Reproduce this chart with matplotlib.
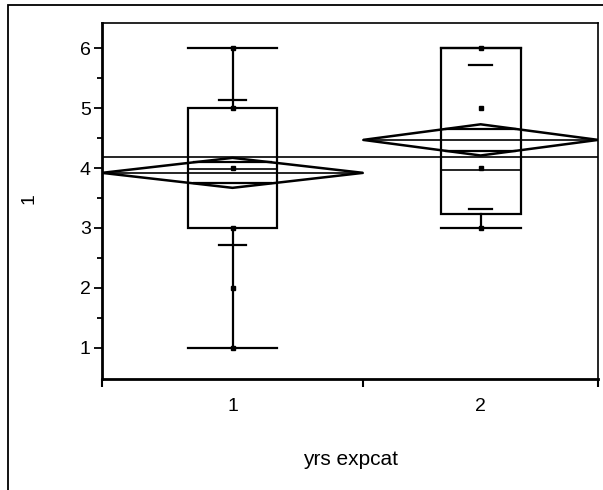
import matplotlib.pyplot as plt
import numpy as np
from matplotlib.patches import Rectangle, Polygon
from matplotlib.ticker import FixedLocator

plt.rcParams["font.family"] = ["Liberation Sans", "DejaVu Sans"]

# group data
groups = ["1", "2"]
counts = [10, 9]
means = [3.92, 4.47]
ci_half = [0.25, 0.26]
grand_mean = 4.19
q_min = [1.0, 3.0]
q10 = [2.71, 3.32]
q25 = [3.0, 3.24]
median = [3.98, 3.96]
q75 = [5.0, 6.0]
q90 = [5.14, 5.72]
q_max = [6.0, 6.0]
points = [[1, 2, 3, 4, 5, 6], [3, 4, 5, 6]]

fig = plt.figure(figsize=(6.03, 4.90), dpi=100)
ax = fig.add_axes([0.169, 0.2265, 0.823, 0.7265])

lw = 1.6
edges = np.concatenate([[0], np.cumsum(counts)])
centers = (edges[:-1] + edges[1:]) / 2

for i in range(len(groups)):
    x0, x1, xc, n = edges[i], edges[i + 1], centers[i], counts[i]
    bw = 0.34 * n / 2   # half box width
    mw = 0.1 * n / 2    # half width of 10/90 % marks

    # quantile box
    ax.add_patch(Rectangle((xc - bw, q25[i]), 2 * bw, q75[i] - q25[i],
                           fill=False, ec="black", lw=lw, zorder=3))
    ax.plot([xc - bw, xc + bw], [median[i]] * 2, color="black", lw=1.2, zorder=3)
    # whiskers
    ax.plot([xc, xc], [q75[i], q_max[i]], color="black", lw=lw, zorder=3)
    ax.plot([xc, xc], [q_min[i], q25[i]], color="black", lw=lw, zorder=3)
    ax.plot([xc - bw, xc + bw], [q_max[i]] * 2, color="black", lw=lw, zorder=3)
    ax.plot([xc - bw, xc + bw], [q_min[i]] * 2, color="black", lw=lw, zorder=3)
    ax.plot([xc - mw, xc + mw], [q10[i]] * 2, color="black", lw=lw, zorder=3)
    ax.plot([xc - mw, xc + mw], [q90[i]] * 2, color="black", lw=lw, zorder=3)

    # means diamond
    m, h = means[i], ci_half[i]
    ax.add_patch(Polygon([(x0, m), (xc, m + h), (x1, m), (xc, m - h)],
                         closed=True, fill=False, ec="black", lw=1.8, zorder=4))
    ax.plot([x0, x1], [m, m], color="black", lw=1.2, zorder=4)
    # overlap marks
    hw = (1 - 1 / np.sqrt(2)) * (x1 - x0) / 2
    for s in (1, -1):
        ax.plot([xc - hw, xc + hw], [m + s * h / np.sqrt(2)] * 2,
                color="black", lw=1.6, zorder=4)

    # data points
    ax.plot([xc] * len(points[i]), points[i], "s", color="black",
            ms=3.5, zorder=5)

# grand mean
ax.axhline(grand_mean, color="black", lw=1.2, zorder=2)

ax.set_xlim(edges[0], edges[-1])
ax.set_ylim(0.48, 6.42)

ax.yaxis.set_major_locator(FixedLocator([1, 2, 3, 4, 5, 6]))
ax.yaxis.set_minor_locator(FixedLocator(np.arange(1.5, 6.0, 1.0)))
ax.tick_params(axis="y", which="major", length=6, width=1.3, labelsize=14, pad=2)
ax.tick_params(axis="y", which="minor", length=3.5, width=1.3)

ax.xaxis.set_major_locator(FixedLocator(list(edges)))
ax.xaxis.set_major_formatter(plt.NullFormatter())
ax.xaxis.set_minor_locator(FixedLocator(list(centers)))
ax.set_xticklabels(groups, minor=True)
ax.tick_params(axis="x", which="major", length=6, width=1.5)
ax.tick_params(axis="x", which="minor", length=0, labelsize=14, pad=14)

ax.spines["left"].set_linewidth(2)
ax.spines["bottom"].set_linewidth(2)
ax.spines["top"].set_linewidth(1.2)
ax.spines["right"].set_linewidth(1.2)

ax.set_xlabel("yrs expcat", fontsize=15, labelpad=25)
fig.text(29 / 603, 1 - 199 / 490, "1", rotation=90, fontsize=14,
         ha="center", va="center")

# outer frame
fig.patches.append(Rectangle((8 / 603, -0.1), 1.2, 1.1 - 5 / 490,
                             transform=fig.transFigure, fill=False,
                             ec="black", lw=1.3))

fig.savefig("out.png", dpi=100)
